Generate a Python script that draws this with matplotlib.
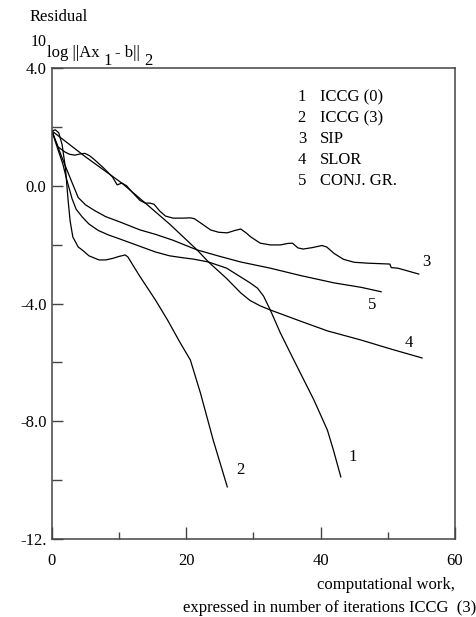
import matplotlib
matplotlib.use('Agg')
import matplotlib.pyplot as plt
from matplotlib.ticker import FixedLocator

plt.rcParams['font.family'] = ['Liberation Serif', 'DejaVu Serif']

# ---- data ----
iccg0_x = [0, 0.5, 1.0, 1.6, 2.2, 3.0, 3.6, 4.5, 5.5, 6.9, 8.5, 10, 13, 15.4, 17.5, 19.6, 21,
           23.3, 26, 28.1, 29.5, 30.6, 31.5, 32.5, 34, 36, 39, 41, 41.9, 43]
iccg0_y = [1.86, 1.5, 1.15, 0.75, 0.2, -0.45, -0.8, -1.06, -1.3, -1.52, -1.68, -1.8, -2.05, -2.25,
           -2.38, -2.45, -2.49, -2.59, -2.8, -3.1, -3.3, -3.48, -3.75, -4.22, -5.0, -5.92, -7.28,
           -8.3, -8.98, -9.89]

iccg3_x = [0, 0.5, 1.0, 1.5, 2.0, 2.4, 2.7, 3.1, 3.9, 4.6, 5.5, 7.0, 8.0, 9.0, 10.0, 10.9, 11.3,
           13.0, 15.4, 17.2, 19.0, 20.6, 22.1, 24.0, 26.1]
iccg3_y = [1.86, 1.9, 1.8, 1.4, 0.6, -0.5, -1.2, -1.74, -2.08, -2.2, -2.38, -2.52, -2.52, -2.47,
           -2.4, -2.35, -2.42, -3.05, -3.88, -4.56, -5.3, -5.92, -7.04, -8.64, -10.23]

sip_x = [0, 0.4, 0.9, 1.9, 2.6, 3.4, 4.2, 4.9, 5.6, 6.4, 7.7, 9.0, 9.7, 10.4, 11.1, 11.9, 13.1,
         13.9, 14.6, 15.2, 16.0, 16.9, 18.0, 19.5, 20.6, 21.2, 22.1, 23.6, 24.8, 26.1, 27.2, 28.1,
         28.9, 29.6, 31.0, 32.5, 34.0, 35.1, 35.8, 36.6, 37.4, 38.8, 40.2, 40.9, 42.0, 43.4, 45.0,
         47.0, 50.3, 50.5, 51.5, 54.6]
sip_y = [1.86, 1.6, 1.32, 1.15, 1.07, 1.04, 1.08, 1.1, 1.02, 0.87, 0.6, 0.3, 0.03, 0.09, 0.0,
         -0.21, -0.5, -0.59, -0.59, -0.63, -0.85, -1.03, -1.1, -1.1, -1.09, -1.12, -1.26, -1.5,
         -1.58, -1.6, -1.52, -1.47, -1.6, -1.74, -1.95, -2.01, -2.01, -1.96, -1.95, -2.11, -2.15,
         -2.1, -2.03, -2.08, -2.3, -2.5, -2.6, -2.63, -2.66, -2.78, -2.8, -3.0]

slor_x = [0, 5.0, 10.4, 13.9, 17.5, 21.6, 23.3, 26.0, 28.1, 29.5, 31.0, 32.5, 37.0, 41.0, 46.0,
          50.5, 55.1]
slor_y = [1.86, 0.98, 0.09, -0.59, -1.3, -2.18, -2.59, -3.15, -3.64, -3.9, -4.08, -4.22, -4.6,
          -4.93, -5.24, -5.55, -5.85]

cg_x = [0, 0.5, 1.0, 1.5, 2.2, 3.0, 3.9, 5.0, 6.4, 8.0, 10.0, 13.1, 15.4, 18.0, 21.6, 25.0, 28.1,
        32.5, 37.0, 42.0, 46.0, 49.0]
cg_y = [1.86, 1.55, 1.25, 0.95, 0.55, 0.1, -0.4, -0.65, -0.85, -1.05, -1.22, -1.5, -1.65, -1.85,
        -2.18, -2.4, -2.59, -2.8, -3.05, -3.3, -3.45, -3.6]

curve_numbers = ['1', '2', '3', '4', '5']
method_names = ['ICCG (0)', 'ICCG (3)', 'SIP', 'SLOR', 'CONJ. GR.']
x_ticks = [0, 20, 40, 60]
x_tick_labels = ['0', '20', '40', '60']
y_ticks = [-12, -8, -4, 0, 4]
y_tick_labels = ['-12.', '-8.0', '-4.0', '0.0', '4.0']

# ---- figure ----
W, H = 477, 617
FS = 12
fig = plt.figure(figsize=(W / 100, H / 100), dpi=100)
ax = fig.add_axes([52 / W, 1 - 539 / H, (455 - 52) / W, (539 - 68) / H])

series = [(iccg0_x, iccg0_y), (iccg3_x, iccg3_y), (sip_x, sip_y), (slor_x, slor_y), (cg_x, cg_y)]
for xs, ys in series:
    ax.plot(xs, ys, color='black', lw=0.9, solid_joinstyle='round')

ax.set_xlim(0, 60)
ax.set_ylim(-12, 4)
ax.set_xticks(x_ticks)
ax.set_xticklabels(x_tick_labels)
ax.xaxis.set_minor_locator(FixedLocator([10, 30, 50]))
ax.set_yticks(y_ticks)
ax.set_yticklabels(y_tick_labels)
ax.yaxis.set_minor_locator(FixedLocator([-10, -6, -2, 2]))

spine_col = '#444444'
for s in ax.spines.values():
    s.set_color(spine_col)
    s.set_linewidth(1.1)
ax.tick_params(which='both', direction='in', top=False, right=False, colors='black',
               labelsize=FS)
ax.tick_params(which='both', color=spine_col, width=1.0)
ax.tick_params(axis='x', which='major', length=8.5, pad=10)
ax.tick_params(axis='x', which='minor', length=5)
ax.tick_params(axis='y', which='major', length=8, pad=4)
ax.tick_params(axis='y', which='minor', length=7)

# legend block (text only)
leg_y = [3.015, 2.30, 1.59, 0.875, 0.16]
for num, name, yy in zip(curve_numbers, method_names, leg_y):
    ax.text(37.2, yy, num, ha='center', va='center', fontsize=FS)
    ax.text(39.9, yy, name, ha='left', va='center', fontsize=FS)

# curve end labels
ax.text(44.8, -9.2, '1', ha='center', va='center', fontsize=FS)
ax.text(28.0, -9.65, '2', ha='center', va='center', fontsize=FS)
ax.text(55.7, -2.6, '3', ha='center', va='center', fontsize=FS)
ax.text(53.1, -5.35, '4', ha='center', va='center', fontsize=FS)
ax.text(47.6, -4.05, '5', ha='center', va='center', fontsize=FS)

def ftext(x, y, s, **kw):
    fig.text(x / W, 1 - y / H, s, **kw)

# y-axis label pieces
ftext(30, 17, 'Residual', ha='left', va='center', fontsize=FS)
ftext(31, 42, '10', ha='left', va='center', fontsize=11.5)
ftext(47, 53, 'log ||Ax', ha='left', va='center', fontsize=FS)
ftext(103, 61, '1', ha='left', va='center', fontsize=FS)
ftext(115, 53, '- b||', ha='left', va='center', fontsize=FS)
ftext(144, 61, '2', ha='left', va='center', fontsize=FS)

# x-axis label
ftext(455, 585, 'computational work,', ha='right', va='center', fontsize=FS)
ftext(476, 608, 'expressed in number of iterations ICCG  (3)', ha='right', va='center',
      fontsize=FS)

fig.savefig('out.png', dpi=100)
